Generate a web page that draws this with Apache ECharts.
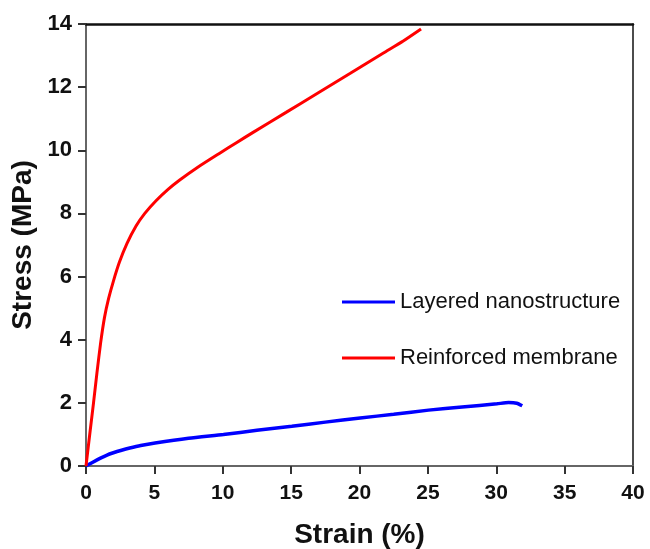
<!DOCTYPE html>
<html>
<head>
<meta charset="utf-8">
<script src="https://cdn.jsdelivr.net/npm/echarts@6/dist/echarts.min.js"></script>
<style>
html,body{margin:0;padding:0;background:#fff;}
#chart{width:650px;height:549px;}
</style>
</head>
<body>
<div id="chart"></div>
<script>
// Series data: [strain (%), stress (MPa)]
const layeredName = 'Layered nanostructure';
const reinforcedName = 'Reinforced membrane';

const layeredStrain = [0, 0.5, 1.02, 1.5, 2.0, 2.6, 3.2, 4.0, 5.05, 7.5, 10.05, 12.5, 15.05, 17.5, 20.05, 22.5, 25.05, 27.5, 30.05, 30.9, 31.5, 31.9];
const layeredStress = [0, 0.12, 0.24, 0.34, 0.42, 0.5, 0.57, 0.65, 0.73, 0.88, 1.0, 1.13, 1.26, 1.39, 1.52, 1.64, 1.77, 1.87, 1.97, 2.01, 1.99, 1.91];

const reinforcedStrain = [0, 0.3, 0.55, 0.8, 1.07, 1.35, 1.65, 2.0, 2.44, 3.0, 3.66, 4.3, 5.12, 6.0, 6.83, 8.2, 9.75, 11.0, 12.19, 14.63, 16.9, 19.3, 21.75, 23.2, 24.5];
const reinforcedStress = [0, 1.1, 2.0, 2.95, 3.9, 4.7, 5.3, 5.85, 6.45, 7.05, 7.6, 8.0, 8.4, 8.76, 9.05, 9.47, 9.9, 10.24, 10.56, 11.2, 11.8, 12.43, 13.08, 13.46, 13.84];

const xTicks = [0, 5, 10, 15, 20, 25, 30, 35, 40];
const yTicks = [0, 2, 4, 6, 8, 10, 12, 14];

const xTitle = 'Strain (%)';
const yTitle = 'Stress (MPa)';

const zip = (a, b) => a.map((v, i) => [v, b[i]]);

const chart = echarts.init(document.getElementById('chart'), null, {renderer: 'canvas'});
const FONT = '"Liberation Sans", Arial, sans-serif';

chart.setOption({
  animation: false,
  backgroundColor: '#fff',
  grid: {left: 86, right: 17, top: 24, bottom: 83, containLabel: false, outerBoundsMode: 'none'},
  legend: {
    orient: 'vertical',
    left: 337,
    top: 285,
    icon: 'rect',
    itemWidth: 53,
    itemHeight: 3,
    itemGap: 32,
    textStyle: {fontFamily: FONT, fontSize: 22, color: '#111', lineHeight: 24},
    data: [layeredName, reinforcedName]
  },
  xAxis: [{
    type: 'value',
    min: xTicks[0],
    max: xTicks[xTicks.length - 1],
    interval: xTicks[1] - xTicks[0],
    position: 'bottom',
    name: xTitle,
    nameLocation: 'middle',
    nameGap: 55,
    nameMoveOverlap: false,
    nameTextStyle: {fontFamily: FONT, fontSize: 28, fontWeight: 'bold', color: '#111'},
    axisLine: {show: true, onZero: false, lineStyle: {color: '#666', width: 2}},
    axisTick: {show: true, inside: false, length: 8, lineStyle: {color: '#333', width: 2}},
    axisLabel: {fontFamily: FONT, fontSize: 21, fontWeight: 'bold', color: '#111', margin: 17},
    splitLine: {show: false}
  }, {
    type: 'value',
    min: xTicks[0],
    max: xTicks[xTicks.length - 1],
    position: 'top',
    axisLine: {show: true, onZero: false, lineStyle: {color: '#111', width: 2.5}},
    axisTick: {show: false},
    axisLabel: {show: false},
    splitLine: {show: false}
  }],
  yAxis: [{
    type: 'value',
    min: yTicks[0],
    max: yTicks[yTicks.length - 1],
    interval: yTicks[1] - yTicks[0],
    position: 'left',
    name: yTitle,
    nameLocation: 'middle',
    nameGap: 49,
    nameMoveOverlap: false,
    nameTextStyle: {fontFamily: FONT, fontSize: 28, fontWeight: 'bold', color: '#111'},
    axisLine: {show: true, onZero: false, lineStyle: {color: '#666', width: 2}},
    axisTick: {show: true, inside: false, length: 8, lineStyle: {color: '#333', width: 2}},
    axisLabel: {fontFamily: FONT, fontSize: 22, fontWeight: 'bold', color: '#111', margin: 14},
    splitLine: {show: false}
  }, {
    type: 'value',
    min: yTicks[0],
    max: yTicks[yTicks.length - 1],
    position: 'right',
    axisLine: {show: true, onZero: false, lineStyle: {color: '#111', width: 1.5}},
    axisTick: {show: false},
    axisLabel: {show: false},
    splitLine: {show: false}
  }],
  series: [{
    name: layeredName,
    type: 'line',
    data: zip(layeredStrain, layeredStress),
    showSymbol: false,
    smooth: 0.2,
    lineStyle: {color: '#0000ff', width: 3.5},
    itemStyle: {color: '#0000ff'},
    z: 3
  }, {
    name: reinforcedName,
    type: 'line',
    data: zip(reinforcedStrain, reinforcedStress),
    showSymbol: false,
    smooth: 0.2,
    lineStyle: {color: '#ff0000', width: 3},
    itemStyle: {color: '#ff0000'},
    z: 4
  }]
});
</script>
</body>
</html>
